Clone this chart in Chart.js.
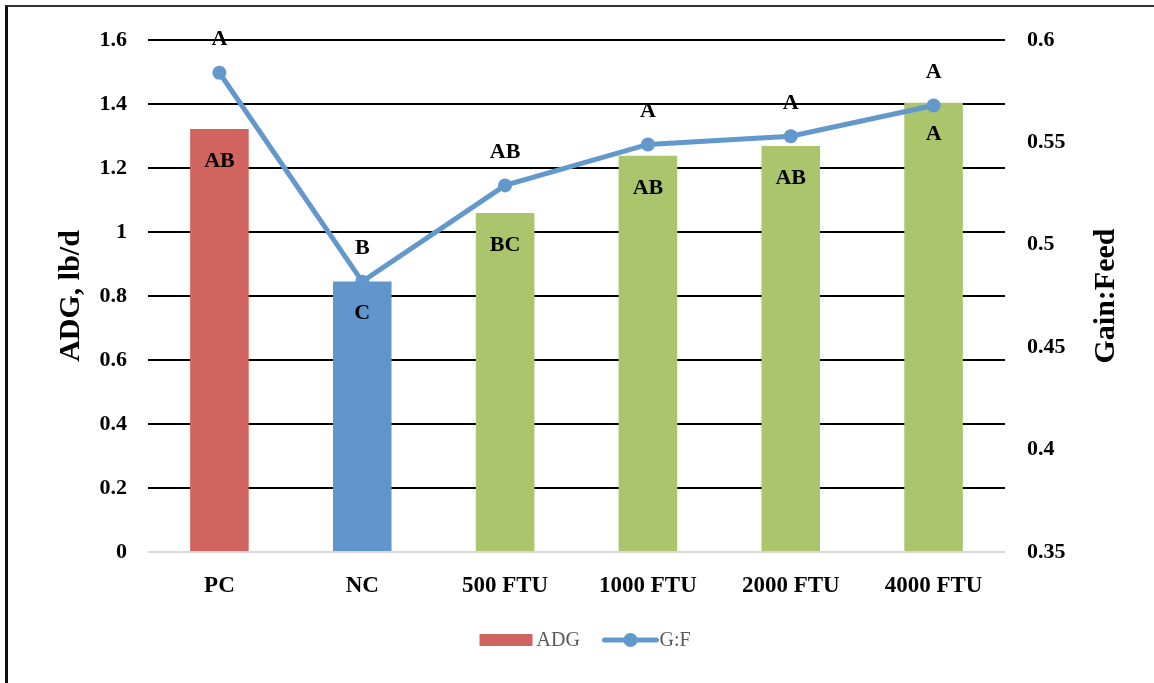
<!DOCTYPE html>
<html>
<head>
<meta charset="utf-8">
<script src="https://cdn.jsdelivr.net/npm/chart.js@4/dist/chart.umd.min.js"></script>
<style>
  body { margin: 0; background: #fff; overflow: hidden; }
  #wrap { position: relative; width: 1154px; height: 683px; }
  #frame { position: absolute; left: 5px; top: 5px; width: 1200px; height: 700px;
           border-left: 3px solid #111; border-top: 2px solid #333; }
  canvas { position: absolute; left: 0; top: 0; }
</style>
</head>
<body>
<div id="wrap">
  <div id="frame"></div>
  <canvas id="chart" width="1154" height="683"></canvas>
</div>
<script>
// data
const categories = ['PC', 'NC', '500 FTU', '1000 FTU', '2000 FTU', '4000 FTU'];
const adg = [1.322, 0.845, 1.059, 1.238, 1.269, 1.404];
const gainFeed = [0.584, 0.482, 0.529, 0.549, 0.553, 0.568];
const barLetters = ['AB', 'C', 'BC', 'AB', 'AB', 'A'];
const lineLetters = ['A', 'B', 'AB', 'A', 'A', 'A'];
const barColors = ['#D1645E', '#6295CB', '#ABC56C', '#ABC56C', '#ABC56C', '#ABC56C'];

const LINE_COLOR = '#6398CD';
const SERIF = "'Liberation Serif', serif";

const overlayPlugin = {
  id: 'overlay',
  afterDraw(chart) {
    const ctx = chart.ctx;
    const area = chart.chartArea;
    const barMeta = chart.getDatasetMeta(0);
    const lineMeta = chart.getDatasetMeta(1);
    ctx.save();
    ctx.fillStyle = '#000';
    ctx.textAlign = 'center';
    ctx.textBaseline = 'middle';
    ctx.font = 'bold 22px ' + SERIF;
    barMeta.data.forEach((bar, i) => {
      ctx.fillText(barLetters[i], bar.x, bar.y + 32);
    });
    lineMeta.data.forEach((pt, i) => {
      ctx.fillText(lineLetters[i], pt.x, pt.y - 33);
    });

    // axis titles
    const midY = (area.top + area.bottom) / 2;
    ctx.font = 'bold 30px ' + SERIF;
    ctx.save();
    ctx.translate(71, midY);
    ctx.rotate(-Math.PI / 2);
    ctx.fillText('ADG, lb/d', 0, 0);
    ctx.restore();
    ctx.save();
    ctx.translate(1106, midY);
    ctx.rotate(-Math.PI / 2);
    ctx.fillText('Gain:Feed', 0, 0);
    ctx.restore();

    // legend
    const ly = 640;
    const cx = (area.left + area.right) / 2;
    ctx.font = '20px ' + SERIF;
    ctx.textAlign = 'left';
    ctx.fillStyle = barColors[0];
    ctx.fillRect(cx - 97, ly - 6, 53, 12);
    ctx.fillStyle = '#595959';
    ctx.fillText('ADG', cx - 40, ly + 1);
    ctx.strokeStyle = LINE_COLOR;
    ctx.lineWidth = 5;
    ctx.lineCap = 'round';
    ctx.beginPath();
    ctx.moveTo(cx + 28, ly);
    ctx.lineTo(cx + 80, ly);
    ctx.stroke();
    ctx.fillStyle = LINE_COLOR;
    ctx.beginPath();
    ctx.arc(cx + 54, ly, 7, 0, Math.PI * 2);
    ctx.fill();
    ctx.fillStyle = '#595959';
    ctx.fillText('G:F', cx + 83, ly + 1);
    ctx.restore();
  }
};

new Chart(document.getElementById('chart'), {
  data: {
    labels: categories,
    datasets: [
      {
        type: 'bar',
        label: 'ADG',
        data: adg,
        backgroundColor: barColors,
        borderWidth: 0,
        categoryPercentage: 1,
        barPercentage: 0.41,
        yAxisID: 'y',
        order: 2,
      },
      {
        type: 'line',
        label: 'G:F',
        data: gainFeed,
        borderColor: LINE_COLOR,
        backgroundColor: LINE_COLOR,
        borderWidth: 5,
        pointRadius: 7,
        pointBackgroundColor: LINE_COLOR,
        pointBorderWidth: 0,
        tension: 0,
        yAxisID: 'y1',
        order: 1,
      },
    ],
  },
  options: {
    responsive: false,
    animation: false,
    layout: { padding: { left: 0, right: 0, top: 40, bottom: 0 } },
    plugins: {
      legend: { display: false },
      tooltip: { enabled: false },
    },
    scales: {
      x: {
        grid: { display: false, drawTicks: false },
        border: { display: false },
        ticks: { color: '#000', font: { family: SERIF, size: 23, weight: 'bold' }, padding: 20, maxRotation: 0 },
        afterFit: (s) => { s.height = 131; },
      },
      y: {
        position: 'left',
        min: 0,
        max: 1.6,
        ticks: {
          stepSize: 0.2,
          color: '#000',
          padding: 21,
          font: { family: SERIF, size: 22, weight: 'bold' },
          callback: (v) => String(+v.toFixed(1)),
        },
        grid: {
          drawTicks: false,
          lineWidth: 2,
          color: (c) => (c.tick && c.tick.value === 0 ? '#D9D9D9' : '#000'),
        },
        border: { display: false },
        afterFit: (s) => { s.width = 148; },
      },
      y1: {
        position: 'right',
        min: 0.35,
        max: 0.6,
        ticks: {
          stepSize: 0.05,
          color: '#000',
          padding: 22,
          font: { family: SERIF, size: 22, weight: 'bold' },
          callback: (v) => String(+v.toFixed(2)),
        },
        grid: { display: false, drawTicks: false },
        border: { display: false },
        afterFit: (s) => { s.width = 149; },
      },
    },
  },
  plugins: [overlayPlugin],
});
</script>
</body>
</html>
